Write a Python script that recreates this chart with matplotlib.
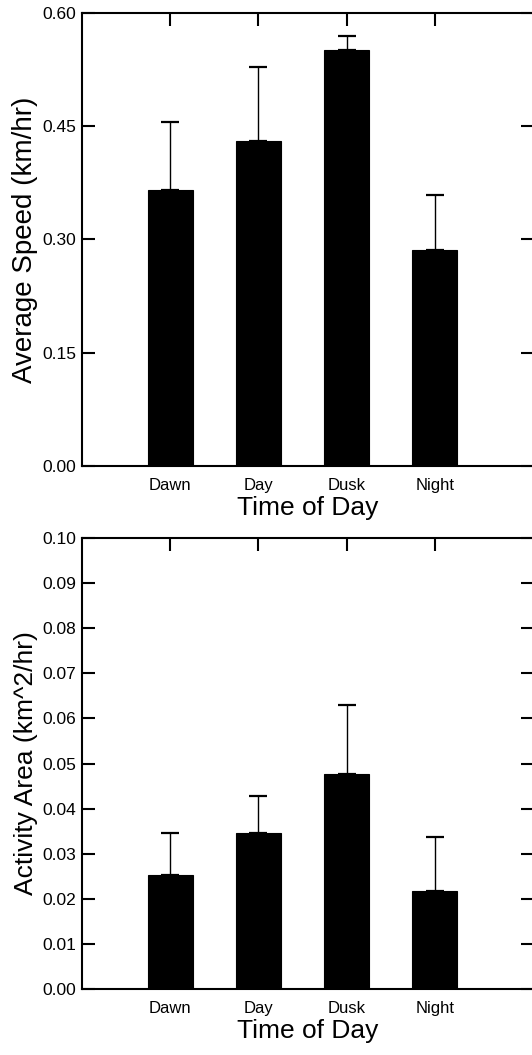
import matplotlib
matplotlib.use("Agg")
import matplotlib.pyplot as plt

plt.rcParams['font.family'] = ['Liberation Sans', 'DejaVu Sans']

# data
periods = ["Dawn", "Day", "Dusk", "Night"]
speed_mean = [0.365, 0.430, 0.551, 0.286]
speed_err = [0.091, 0.098, 0.019, 0.073]
area_mean = [0.0252, 0.0346, 0.0477, 0.0218]
area_err = [0.0094, 0.0082, 0.0152, 0.0119]

speed_ticks = [0.00, 0.15, 0.30, 0.45, 0.60]
area_ticks = [0.00, 0.01, 0.02, 0.03, 0.04, 0.05, 0.06, 0.07, 0.08, 0.09, 0.10]

fig = plt.figure(figsize=(5.32, 10.55), dpi=100)
# right spine sits just past the image edge, as in the scan
ax1 = fig.add_axes([0.1541, 0.5583, 0.849, 0.4294])
ax2 = fig.add_axes([0.1541, 0.0626, 0.849, 0.4274])

xpos = [1, 2, 3, 4]


def draw_panel(ax, means, errs, yticks, ylabel, ylabel_size):
    ax.bar(xpos, means, width=0.51, color='black', edgecolor='black', linewidth=0.8, zorder=2)
    ax.errorbar(xpos, means, yerr=[[0] * len(errs), errs], fmt='none', ecolor='black',
                elinewidth=1.0, capsize=6.5, capthick=1.6, zorder=1)
    ax.set_xlim(0, 5.12)
    ax.set_ylim(yticks[0], yticks[-1])
    ax.set_yticks(yticks)
    ax.set_yticklabels([f"{t:.2f}" for t in yticks])
    ax.set_xticks(xpos)
    ax.set_xticklabels(periods, fontsize=12)
    ax.tick_params(axis='x', bottom=False, top=True, direction='in', length=9.5, width=1.5, pad=9)
    ax.tick_params(axis='y', left=True, right=True, direction='in', length=9.5, width=1.5,
                   labelsize=12.5, pad=4)
    for s in ax.spines.values():
        s.set_linewidth(1.5)
    ax.set_xlabel("Time of Day", fontsize=19, labelpad=2)
    ax.set_ylabel(ylabel, fontsize=ylabel_size, labelpad=3)


draw_panel(ax1, speed_mean, speed_err, speed_ticks, "Average Speed (km/hr)", 20)
draw_panel(ax2, area_mean, area_err, area_ticks, "Activity Area (km^2/hr)", 19)

fig.savefig("out.png", dpi=100)
